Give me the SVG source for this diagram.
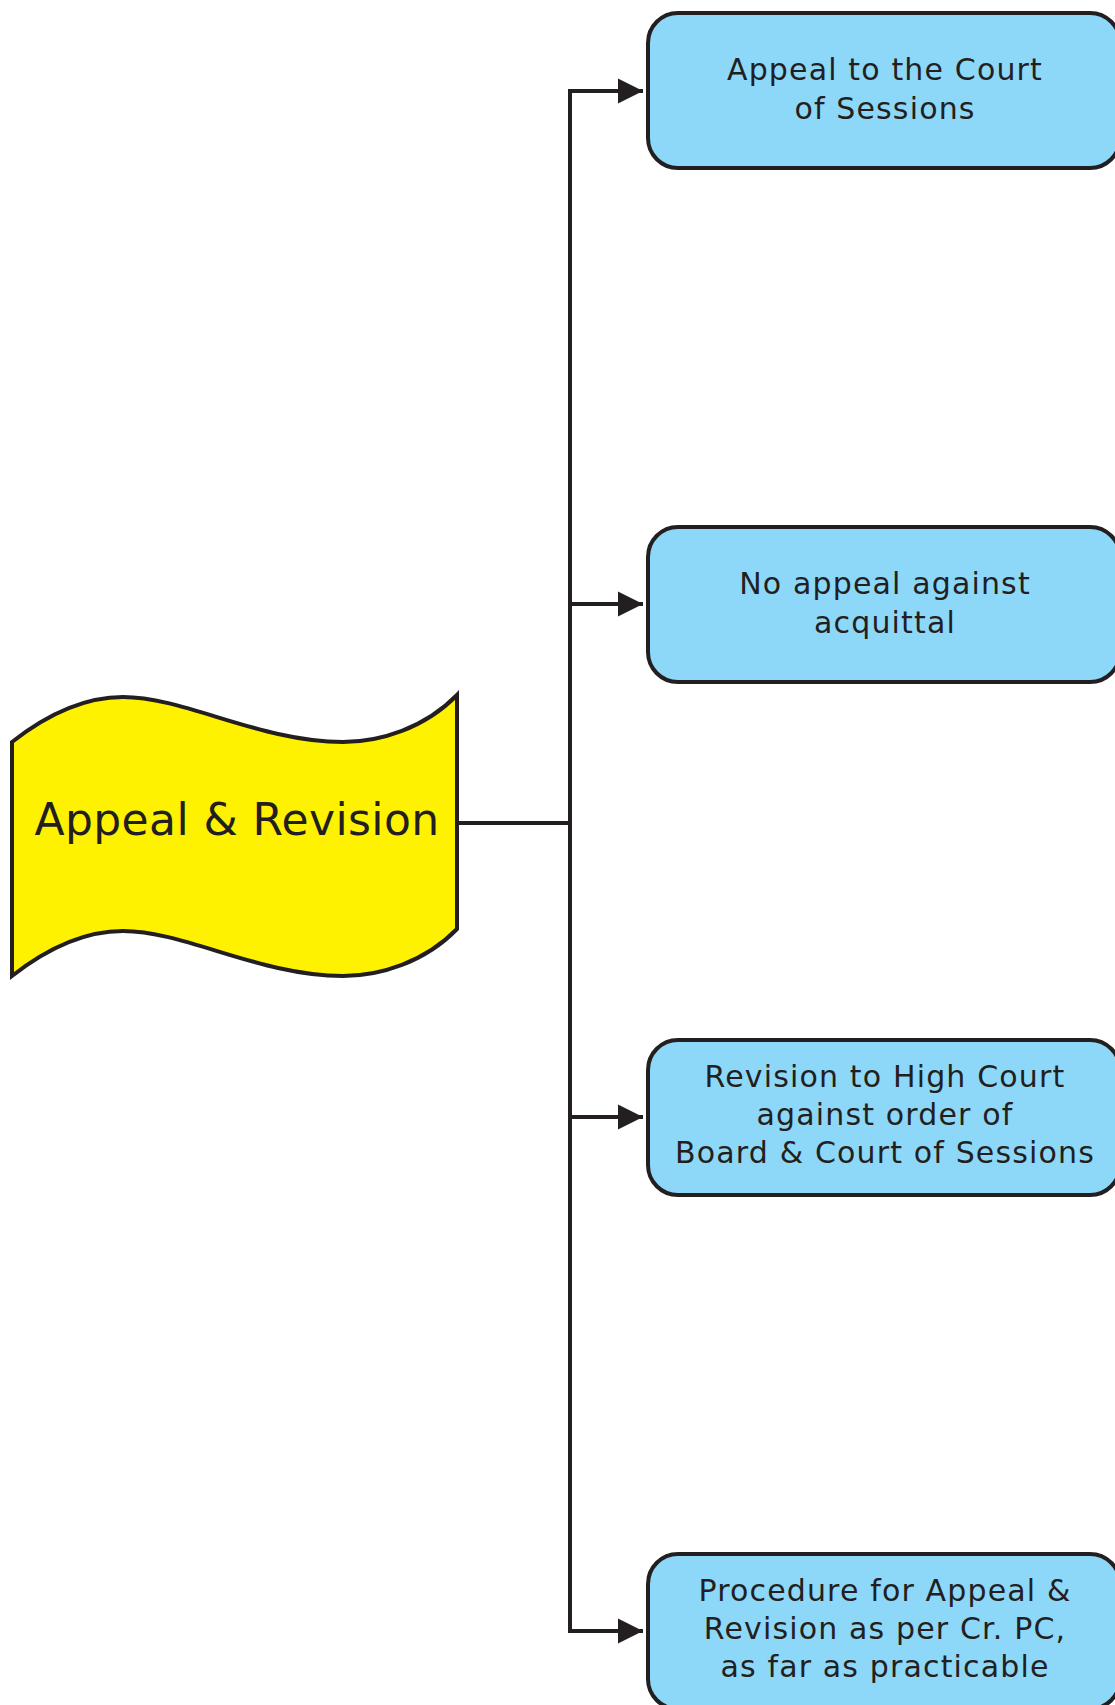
<svg xmlns="http://www.w3.org/2000/svg" width="1115" height="1705" viewBox="0 0 1115 1705">
<style>
.box{fill:#8DD8F8;stroke:#231F20;stroke-width:4}
.tape{fill:#FFF200;stroke:#231F20;stroke-width:4;stroke-linejoin:miter}
.t{font-family:"DejaVu Sans","Verdana",sans-serif;font-size:30px;letter-spacing:1.15px;fill:#231F20;text-anchor:middle}
.big{font-family:"DejaVu Sans","Verdana",sans-serif;font-size:44px;letter-spacing:0.4px;fill:#231F20;text-anchor:middle}
.c{fill:none;stroke:#231F20;stroke-width:4}
</style>
<defs>
<marker id="ah" viewBox="0 0 10 10" refX="10" refY="5" markerWidth="25" markerHeight="27" markerUnits="userSpaceOnUse" orient="auto">
<path d="M0,0 L10,5 L0,10 Z" fill="#231F20"/>
</marker>
</defs>
<rect width="1115" height="1705" fill="#FFFFFF"/>
<g id="connectors">
<path class="c" d="M458,823 L570,823"/>
<path class="c" d="M570,89 L570,1633"/>
<path class="c" d="M568,91 L643,91" marker-end="url(#ah)"/>
<path class="c" d="M568,604 L643,604" marker-end="url(#ah)"/>
<path class="c" d="M568,1117 L643,1117" marker-end="url(#ah)"/>
<path class="c" d="M568,1631 L643,1631" marker-end="url(#ah)"/>
</g>
<g id="node-main">
<path class="tape" d="M12,742 C40,720 80,697 123,697 C185,697 260,742 343,742 C380,742 425,728 457,695 L457,929 C425,962 380,976 343,976 C260,976 185,931 123,931 C80,931 40,954 12,976 Z"/>
<text class="big" x="237" y="835">Appeal &amp; Revision</text>
</g>
<g id="node-1">
<rect class="box" x="648" y="13" width="472" height="155" rx="30" ry="30"/>
<text class="t" x="885" y="80">Appeal to the Court</text>
<text class="t" x="885" y="119">of Sessions</text>
</g>
<g id="node-2">
<rect class="box" x="648" y="527" width="472" height="155" rx="30" ry="30"/>
<text class="t" x="885" y="594">No appeal against</text>
<text class="t" x="885" y="633">acquittal</text>
</g>
<g id="node-3">
<rect class="box" x="648" y="1040" width="472" height="155" rx="30" ry="30"/>
<text class="t" x="885" y="1087">Revision to High Court</text>
<text class="t" x="885" y="1125">against order of</text>
<text class="t" x="885" y="1163">Board &amp; Court of Sessions</text>
</g>
<g id="node-4">
<rect class="box" x="648" y="1554" width="472" height="155" rx="30" ry="30"/>
<text class="t" x="885" y="1601">Procedure for Appeal &amp;</text>
<text class="t" x="885" y="1639">Revision as per Cr. PC,</text>
<text class="t" x="885" y="1677">as far as practicable</text>
</g>
</svg>
